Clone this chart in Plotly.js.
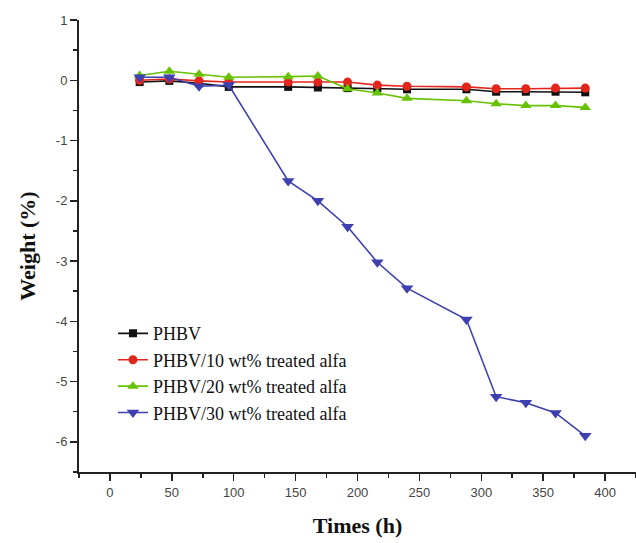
<!DOCTYPE html>
<html>
<head>
<meta charset="utf-8">
<script src="https://cdn.plot.ly/plotly-3.0.1.min.js"></script>
<style>html,body{margin:0;padding:0;background:#fff;}#chart{width:636px;height:543px;}</style>
</head>
<body>
<div id="chart"></div>
<script>
const times = [24, 48, 72, 96, 144, 168, 192, 216, 240, 288, 312, 336, 360, 384];
const seriesNames = ["PHBV", "PHBV/10 wt% treated alfa", "PHBV/20 wt% treated alfa", "PHBV/30 wt% treated alfa"];
const phbv   = [-0.03, -0.01, -0.05, -0.11, -0.11, -0.12, -0.13, -0.13, -0.15, -0.15, -0.19, -0.19, -0.19, -0.20];
const phbv10 = [0.00, 0.02, -0.01, -0.03, -0.03, -0.03, -0.03, -0.08, -0.10, -0.11, -0.14, -0.14, -0.13, -0.13];
const phbv20 = [0.08, 0.15, 0.10, 0.05, 0.06, 0.07, -0.14, -0.21, -0.30, -0.34, -0.39, -0.42, -0.42, -0.45];
const phbv30 = [0.05, 0.05, -0.10, -0.08, -1.67, -2.00, -2.43, -3.02, -3.45, -3.97, -5.25, -5.35, -5.52, -5.90];
const yTickVals = [1, 0, -1, -2, -3, -4, -5, -6];
const yTickText = ["1", "0", "-1", "-2", "-3", "-4", "-5", "-6"];
const xTickVals = [0, 50, 100, 150, 200, 250, 300, 350, 400];

const colors = ["#111111", "#e3261c", "#66c203", "#3e40b0"];
const symbols = ["square", "circle", "triangle-up", "triangle-down"];
const sizes = [8, 9, 10, 11];
const ys = [phbv, phbv10, phbv20, phbv30];

const traces = ys.map((y, i) => ({
  x: times, y: y, name: seriesNames[i], type: "scatter", mode: "lines+markers",
  line: {color: colors[i], width: 1.6},
  marker: {color: colors[i], symbol: symbols[i], size: sizes[i]}
}));

const layout = {
  width: 636, height: 543,
  margin: {l: 79, r: 0, t: 20, b: 71},
  paper_bgcolor: "#fff", plot_bgcolor: "#fff",
  showlegend: true,
  legend: {x: 0.061, y: 0.347, xanchor: "left", yanchor: "top",
           font: {family: "Liberation Serif", size: 18, color: "#111"},
           bgcolor: "rgba(0,0,0,0)", tracegroupgap: 0, itemwidth: 30},
  xaxis: {range: [-25, 425], tickvals: xTickVals, ticks: "outside", ticklen: 7, tickwidth: 1.5,
          tickcolor: "#222", showline: true, linecolor: "#222", linewidth: 2, showgrid: false, zeroline: false,
          tickfont: {family: "Liberation Sans", size: 13, color: "#444"},
          minor: {dtick: 25, tick0: 0, ticks: "outside", ticklen: 4, tickcolor: "#222", tickwidth: 1.5},
          title: {text: "<b>Times (h)</b>", font: {family: "Liberation Serif", size: 22, color: "#111"}, standoff: 19}},
  yaxis: {range: [-6.5, 1], tickvals: yTickVals, ticktext: yTickText, ticks: "outside", ticklen: 7, tickwidth: 1.5,
          tickcolor: "#222", showline: true, linecolor: "#222", linewidth: 2, showgrid: false, zeroline: false,
          tickfont: {family: "Liberation Sans", size: 13, color: "#444"},
          minor: {dtick: 0.5, tick0: 0, ticks: "outside", ticklen: 4, tickcolor: "#222", tickwidth: 1.5},
          title: {text: "<b>Weight (%)</b>", font: {family: "Liberation Serif", size: 22, color: "#111"}, standoff: 14}}
};

Plotly.newPlot("chart", traces, layout, {displayModeBar: false, staticPlot: true});
</script>
</body>
</html>
